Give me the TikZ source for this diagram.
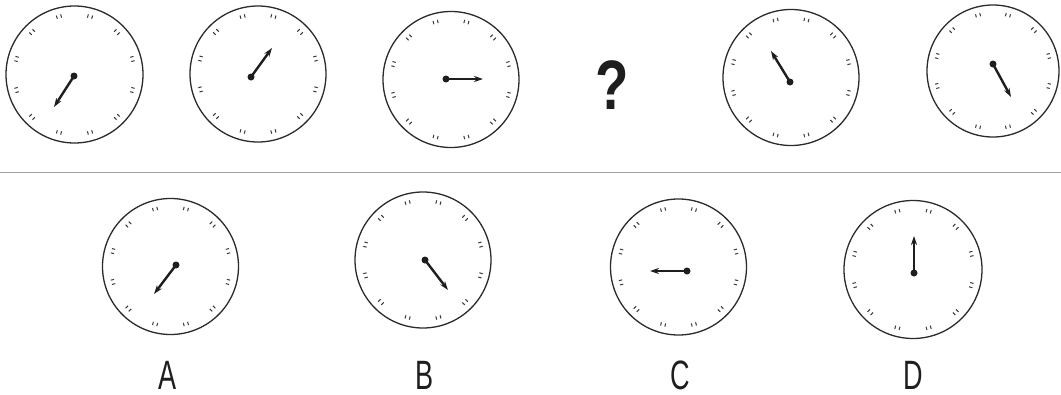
\documentclass[tikz,border=0pt]{standalone}
\usepackage{fontspec}
\usetikzlibrary{arrows.meta,calc}
\newfontfamily\labfont{Liberation Sans}
\definecolor{ink}{HTML}{1E1E1E}
\definecolor{rimc}{HTML}{2B2B2B}
\definecolor{tickc}{HTML}{3A3A3A}
\definecolor{rulec}{HTML}{A0A0A0}
\tikzset{
  rim/.style={circle, draw=rimc, line width=1.3pt, inner sep=0pt, fill=white},
  tickmark/.style={draw=tickc, line width=1pt},
  handline/.style={draw=ink, line width=2.4pt, -{Stealth[length=9pt,width=6pt]}},
  hubdot/.style={fill=ink},
  letter/.style={font=\labfont\fontsize{41}{41}\selectfont, text=ink, inner sep=0pt, anchor=base, xscale=0.66},
  qmark/.style={font=\labfont\bfseries\fontsize{70}{70}\selectfont, text=ink, inner sep=0pt, xscale=0.78}
}
% #1 name, #2 cx, #3 cy, #4 r, #5 dot x, #6 dot y, #7 tip x, #8 tip y
\newcommand{\clockface}[8]{%
  \node[rim, minimum size=2*#4pt] (#1) at (#2,#3) {};
  \pgfmathsetmacro{\rin}{0.85*#4}
  \pgfmathsetmacro{\rout}{0.90*#4}
  \foreach \k in {0,...,11}{
    \pgfmathsetmacro{\ang}{15+30*\k}
    \begin{scope}[shift={(#1.center)}, rotate=\ang]
      \draw[tickmark] (\rin,2.2) -- (\rout,2.2);
      \draw[tickmark] (\rin,-2.2) -- (\rout,-2.2);
    \end{scope}
  }
  \coordinate (#1-hub) at (#5,#6);
  \coordinate (#1-tip) at (#7,#8);
  \draw[handline] (#1-hub) -- (#1-tip);
  \fill[hubdot] (#1-hub) circle (3.5pt);
}
\begin{document}
\begin{tikzpicture}[x=1pt,y=-1pt]
\useasboundingbox (0,0) rectangle (1061,394);
% top row
\clockface{c1}{74.5}{74.5}{68.5}{74}{76}{54}{107}
\clockface{c2}{258}{74}{68}{251}{77}{272}{48}
\clockface{c3}{451}{79.5}{68}{446}{79}{483}{79}
\node[qmark] (q) at (612,85) {?};
\clockface{c5}{791}{77.5}{68}{790}{82}{771}{51}
\clockface{c6}{993}{71}{66}{993}{64}{1011}{97}
% separator
\coordinate (sepL) at (0,172);
\coordinate (sepR) at (1061,172);
\draw[rulec, line width=1pt] (sepL) -- (sepR);
% answers
\clockface{ca}{170.5}{266.5}{68}{176}{265}{154}{294}
\clockface{cb}{423}{260}{68}{425}{260}{448}{290}
\clockface{cc}{678.5}{267}{68}{687}{271}{650}{271}
\clockface{cd}{913}{269.5}{69}{914}{273}{914}{236}
\node[letter] (la) at (167.5,389) {A};
\node[letter] (lb) at (425,389) {B};
\node[letter] (lc) at (680,389) {C};
\node[letter] (ld) at (913,389) {D};
\end{tikzpicture}
\end{document}
